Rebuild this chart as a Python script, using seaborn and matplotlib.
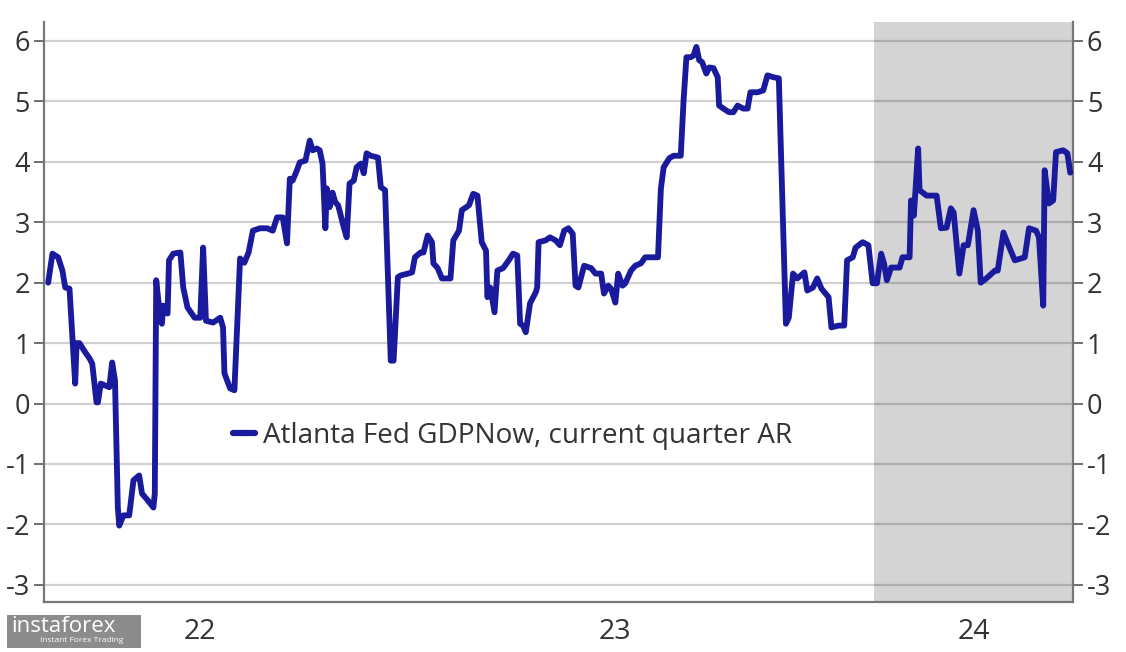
import pandas as pd
import matplotlib
matplotlib.use("Agg")
import matplotlib.pyplot as plt
from matplotlib.patches import Rectangle
import seaborn as sns

# Atlanta Fed GDPNow estimates (days since 2023-01-01, % AR)
day_offsets = [
    -216, -213, -209, -206, -204, -201, -197, -196, -194, -190, -187, -185, -182, -181,
    -179, -176, -173, -171, -169, -167, -166, -163, -159, -156, -152, -150, -146, -142,
    -141, -140, -137, -136, -135, -132, -131, -128, -123, -121, -118, -113, -109, -107,
    -105, -100, -95, -93, -92, -88, -85, -81, -78, -75, -72, -67, -62, -58, -55, -51,
    -48, -46, -44, -41, -39, -35, -32, -30, -27, -25, -23, -21, -20, -18, -16, -14,
    -12, -8, -6, -4, -1, 1, 4, 6, 8, 11, 16, 18, 21, 25, 27, 30, 32, 37, 40, 42, 46,
    48, 51, 54, 55, 58, 61, 67, 69, 73, 75, 80, 83, 86, 89, 92, 93, 95, 98, 100, 104,
    108, 111, 114, 116, 118, 120, 123, 127, 128, 129, 134, 137, 141, 144, 147, 150,
    153, 155, 157, 161, 166, 169, 173, 175, 178, 180, 183, 185, 188, 190, 194, 197,
    201, 204, 210, 213, 215, 217, 221, 224, 229, 231, 233, 236, 238, 240, 242, 244,
    247, 249, 252, 255, 256, 259, 263, 266, 269, 273, 276, 278, 283, 287, 290, 294,
    298, 303, 305, 308, 311, 316, 318, 322, 325, 328, 333, 335, 340, 344, 346, 350,
    352, 357, 361, 364, 367, 370, 372, 374, 377, 383, 385, 390, 391, 393, 396, 397,
    402, 409, 412, 416, 419, 421, 425, 428, 431, 435, 438, 440, 444, 450, 452, 456,
    459, 464, 471, 474, 479, 481, 484, 485, 488, 491, 493, 498, 501, 503,
]
gdpnow = [
    2.0, 2.48, 2.42, 2.2, 1.92, 1.9, 0.33, 1.0, 1.0, 0.85, 0.75, 0.66, 0.02, 0.02,
    0.33, 0.3, 0.27, 0.68, 0.38, -1.72, -2.02, -1.85, -1.85, -1.27, -1.19, -1.49, -1.6, -1.72,
    -1.49, 2.04, 1.37, 1.32, 1.62, 1.49, 2.37, 2.48, 2.5, 1.92, 1.59, 1.42, 1.42, 2.58,
    1.37, 1.34, 1.42, 1.26, 0.5, 0.25, 0.22, 2.4, 2.33, 2.5, 2.86, 2.9, 2.9, 2.86, 3.08, 3.08,
    2.65, 3.72, 3.69, 3.86, 3.99, 4.02, 4.35, 4.19, 4.22, 4.19, 3.97, 2.9, 3.56, 3.25, 3.49, 3.33,
    3.28, 2.91, 2.75, 3.64, 3.69, 3.91, 3.97, 3.81, 4.14, 4.1, 4.07, 3.58, 3.53, 0.71, 0.71, 2.09, 2.12, 2.15, 2.17, 2.42, 2.5,
    2.5, 2.78, 2.67, 2.32, 2.24, 2.07, 2.07, 2.7, 2.86, 3.2, 3.28, 3.47, 3.44, 2.67, 2.53, 1.76, 1.92, 1.51, 2.2, 2.24,
    2.37, 2.48, 2.45, 1.32, 1.29, 1.18, 1.66, 1.84, 1.92, 2.67, 2.7, 2.75, 2.7, 2.62, 2.86, 2.9,
    2.81, 1.95, 1.92, 2.28, 2.24, 2.15, 2.15, 1.82, 1.95, 1.9, 1.67, 2.15, 1.95, 1.99, 2.2, 2.28,
    2.32, 2.42, 2.42, 2.42, 3.55, 3.91, 4.06, 4.1, 4.1, 5.02, 5.73, 5.73, 5.76, 5.9, 5.68, 5.65,
    5.46, 5.56, 5.55, 5.4, 4.93, 4.88, 4.82, 4.82, 4.93, 4.88, 4.88, 5.15, 5.15, 5.18, 5.43, 5.4,
    5.38, 1.32, 1.42, 2.15, 2.07, 2.17, 1.87, 1.92, 2.07, 1.9, 1.76, 1.26, 1.29, 1.29, 2.37, 2.42,
    2.58, 2.67, 2.62, 1.99, 1.99, 2.48, 2.32, 2.04, 2.25, 2.25, 2.42, 2.42, 3.36, 3.11, 4.22, 3.53,
    3.44, 3.44, 2.9, 2.91, 3.23, 3.16, 2.15, 2.62, 2.62, 3.2, 2.86, 2.0, 2.07, 2.2, 2.2, 2.83,
    2.65, 2.37, 2.42, 2.9, 2.86, 2.75, 1.62, 3.86, 3.31, 3.36, 4.16, 4.19, 4.14, 3.82,
]
series_label = "Atlanta Fed GDPNow, current quarter AR"
year_labels = ["22", "23", "24"]
y_ticks = [-3, -2, -1, 0, 1, 2, 3, 4, 5, 6]

df = pd.DataFrame({
    "date": pd.Timestamp("2023-01-01") + pd.to_timedelta(day_offsets, unit="D"),
    "value": gdpnow,
})

x_start = pd.Timestamp("2022-05-27")
x_end = pd.Timestamp("2024-05-20")
shade_start = pd.Timestamp("2024-01-01")

sns.set_style("white")
plt.rcParams["font.family"] = ["Open Sans", "DejaVu Sans"]

fig = plt.figure(figsize=(11.26, 6.52), dpi=100)
ax = fig.add_axes([0.039, 0.077, 0.914, 0.889])

# 2024 shading and gridlines
ax.axvspan(shade_start, x_end, color="#d4d4d4", zorder=0, lw=0)
for yv in y_ticks:
    ax.axhline(yv, color="black", alpha=0.18, lw=1.6, zorder=1)

sns.lineplot(data=df, x="date", y="value", ax=ax, color="#1a1a9c",
             linewidth=4.2, label=series_label, zorder=3)

ax.set_xlim(x_start, x_end)
ax.set_ylim(-3.28, 6.31)
ax.set_xlabel("")
ax.set_ylabel("")

# y axis on both sides
ax.set_yticks(y_ticks)
ax.set_yticklabels([str(v) for v in y_ticks])
ax.tick_params(axis="y", which="both", left=True, right=True, labelleft=True,
               labelright=True, direction="out", length=7, width=1.2,
               color="#555555", labelsize=19.5, labelcolor="#333333", pad=3)

# year boundaries as ticks, labels centred in the visible part of each year
bounds = [pd.Timestamp("2023-01-01"), pd.Timestamp("2024-01-01")]
ax.set_xticks(bounds)
ax.set_xticklabels([])
edges = [x_start] + bounds + [x_end]
mids = [edges[i] + (edges[i + 1] - edges[i]) / 2 for i in range(len(edges) - 1)]
ax.set_xticks(mids, minor=True)
ax.set_xticklabels(year_labels, minor=True)
ax.tick_params(axis="x", which="major", direction="out", length=8, width=1.2,
               color="#555555")
ax.tick_params(axis="x", which="minor", length=0, labelsize=20.5,
               labelcolor="#333333", pad=12)

for side in ["left", "right", "bottom"]:
    ax.spines[side].set_color("#777777")
    ax.spines[side].set_linewidth(1.6)
ax.spines["top"].set_visible(False)

leg = ax.legend(loc="center left", bbox_to_anchor=(0.159, 0.286), frameon=False,
                fontsize=20.1, handlelength=0.8, handletextpad=0.3,
                labelcolor="#333333")
leg.set_zorder(5)
for h in leg.get_lines():
    h.set_linewidth(4.5)

# watermark box
fig.patches.append(Rectangle((7 / 1126, 4 / 652), 134 / 1126, 33 / 652,
                             transform=fig.transFigure, fc="#8c8c8c", ec="none"))
fig.text(11 / 1126, 26 / 652, "instaforex", fontsize=16, color="white", va="center")
fig.text(40 / 1126, 11 / 652, "Instant Forex Trading", fontsize=6, color="white",
         va="center")

fig.savefig("out.png", dpi=100)
